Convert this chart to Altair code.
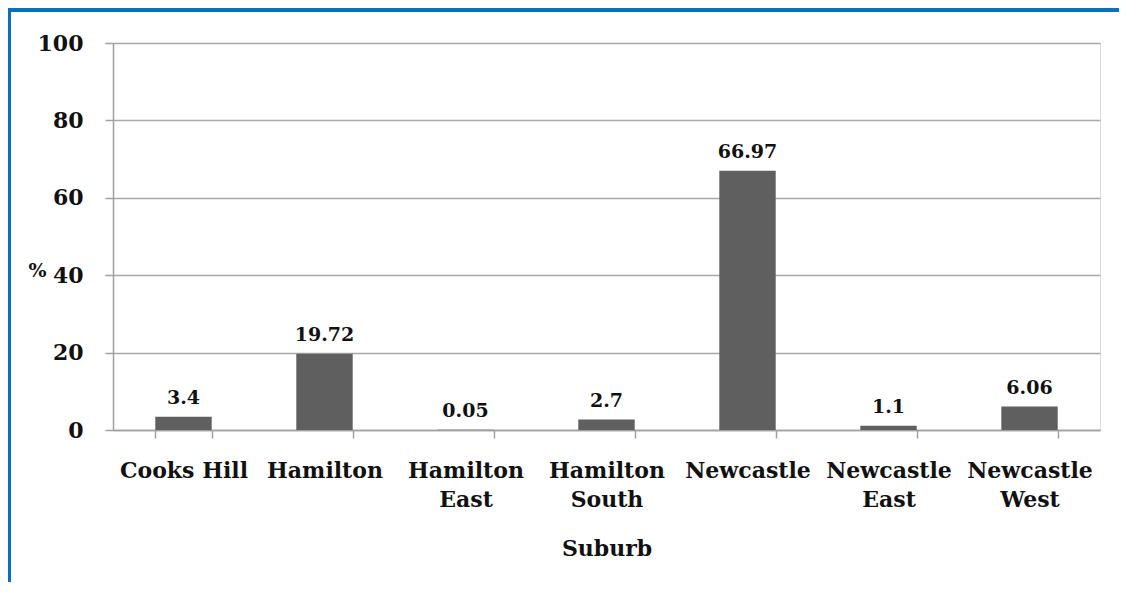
import altair as alt
import pandas as pd

suburbs = ["Cooks Hill", "Hamilton", "Hamilton East", "Hamilton South",
           "Newcastle", "Newcastle East", "Newcastle West"]
values = [3.4, 19.72, 0.05, 2.7, 66.97, 1.1, 6.06]
labels = ["3.4", "19.72", "0.05", "2.7", "66.97", "1.1", "6.06"]

df = pd.DataFrame({"Suburb": suburbs, "pct": values, "lab": labels})

FONT = "DejaVu Serif"
W, H = 987, 387
PL, PT, PR, PB = 105, 35, 19, 152

x = alt.X("Suburb:N", sort=suburbs, title="Suburb",
          scale=alt.Scale(paddingInner=0.6, paddingOuter=0.3),
          axis=alt.Axis(labelAngle=0, tickBand="extent", tickSize=8,
                        tickColor="#a0a0a0", tickWidth=1.5,
                        domainColor="#a0a0a0", domainWidth=1.5,
                        labelFont=FONT, labelFontWeight="bold", labelFontSize=22,
                        labelColor="#111111", labelPadding=22, labelLineHeight=29,
                        labelBaseline="top",
                        labelExpr="datum.label == 'Cooks Hill' ? datum.label : split(datum.label, ' ')",
                        titleFont=FONT, titleFontWeight="bold", titleFontSize=22,
                        titleColor="#111111", titleY=118, titleBaseline="middle",
                        grid=False))
y = alt.Y("pct:Q", title="%",
          scale=alt.Scale(domain=[0, 100]),
          axis=alt.Axis(values=[0, 20, 40, 60, 80, 100], tickSize=8,
                        tickColor="#a0a0a0", tickWidth=1.5,
                        domainColor="#a0a0a0", domainWidth=1.5,
                        gridColor="#a8a8a8", gridWidth=1.5,
                        labelFont=FONT, labelFontWeight="bold", labelFontSize=22,
                        labelColor="#111111", labelPadding=22,
                        titleFont=FONT, titleFontWeight="bold", titleFontSize=19,
                        titleColor="#111111", titleAngle=0, titleX=-76, titleY=227,
                        titleAlign="center", titleBaseline="middle"))

bars = alt.Chart(df).mark_bar(color="#5f5f5f").encode(x=x, y=y)
text = alt.Chart(df).mark_text(font=FONT, fontWeight="bold", fontSize=19,
                               color="#111111", baseline="bottom", dy=-9).encode(
    x=alt.X("Suburb:N", sort=suburbs), y="pct:Q", text="lab:N")

deco = pd.DataFrame({"k": [0]})
left_line = alt.Chart(deco).mark_rule(color="#0a70bb", strokeWidth=3).encode(
    x=alt.value(-PL + 1.5), y=alt.value(-PT), y2=alt.value(H + PB))
top_band = alt.Chart(deco).mark_rule(color="#0a70bb", strokeWidth=4).encode(
    x=alt.value(-PL), x2=alt.value(W + PR), y=alt.value(-PT + 2))

chart = alt.layer(bars, text, left_line, top_band).properties(
    width=W, height=H,
    autosize=alt.AutoSizeParams(type="none"),
    padding={"left": PL, "top": PT, "right": PR, "bottom": PB},
).configure_view(stroke=None).configure(background="white")

chart.save("out.html", embed_options={"renderer": "svg", "actions": False})
